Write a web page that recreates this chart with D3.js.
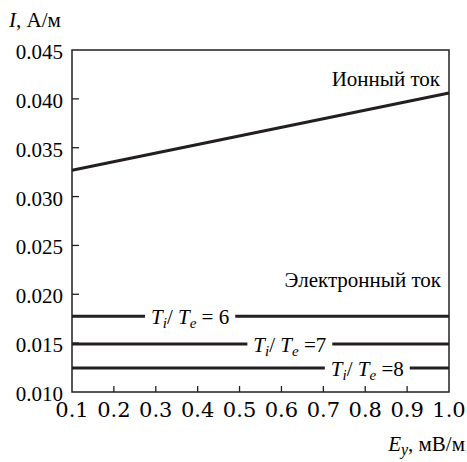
<!DOCTYPE html>
<html>
<head>
<meta charset="utf-8">
<script src="https://cdn.jsdelivr.net/npm/d3@7"></script>
</head>
<body style="margin:0">
<svg id="chart" width="467" height="462"></svg>
<script>
// field values along x
const fieldX = [0.1, 1.0];
// ion current, A/m
const ionCurrent = [0.0327, 0.0406];
// electron current for each temperature ratio
const ratios = [6, 7, 8];
const electronCurrent = [0.01775, 0.0149, 0.01245];
const labelAt = [0.382, 0.62, 0.805];
const ratioSpace = [" = ", " =", " ="];

const xTicks = [0.1, 0.2, 0.3, 0.4, 0.5, 0.6, 0.7, 0.8, 0.9, 1.0];
const yTicks = [0.010, 0.015, 0.020, 0.025, 0.030, 0.035, 0.040, 0.045];

const width = 467, height = 462;
const margin = { top: 50, right: 18, bottom: 70, left: 72 };

const svg = d3.select("#chart");

const x = d3.scaleLinear().domain([0.1, 1.0]).range([margin.left, width - margin.right]);
const y = d3.scaleLinear().domain([0.010, 0.045]).range([height - margin.bottom, margin.top]);

const ink = "#231f20";

function label(sel, fam) {
    return sel.attr("font-family", fam || "Liberation Serif").attr("font-size", 21);
}

// tick labels first
svg.selectAll("text.ylab")
    .data(yTicks)
    .join("text")
    .call(label, "Liberation Serif")
    .attr("x", x(0.1) - 9)
    .attr("y", d => y(d) + 9)
    .attr("text-anchor", "end")
    .text(d => d3.format(".3f")(d));

svg.selectAll("text.xlab")
    .data(xTicks)
    .join("text")
    .call(label, "DejaVu Serif")
    .attr("x", d => x(d))
    .attr("y", y(0.010) + 25)
    .attr("text-anchor", "middle")
    .text(d => d3.format(".1f")(d));

// frame
svg.append("rect")
    .attr("x", x(0.1)).attr("y", y(0.045))
    .attr("width", x(1.0) - x(0.1)).attr("height", y(0.010) - y(0.045))
    .attr("fill", "none").attr("stroke", ink).attr("stroke-width", 1.5);

// ticks (inward)
svg.selectAll("line.ytick")
    .data(yTicks.slice(1, -1))
    .join("line")
    .attr("x1", x(0.1)).attr("x2", x(0.1) + 7)
    .attr("y1", d => y(d)).attr("y2", d => y(d))
    .attr("stroke", ink).attr("stroke-width", 1.3);

svg.selectAll("line.xtick")
    .data(xTicks.slice(1, -1))
    .join("line")
    .attr("x1", d => x(d)).attr("x2", d => x(d))
    .attr("y1", y(0.010)).attr("y2", y(0.010) - 6)
    .attr("stroke", ink).attr("stroke-width", 1.3);

// axis titles
const yTitle = svg.append("text").call(label, "serif").attr("x", 9).attr("y", 27);
yTitle.append("tspan").attr("font-style", "italic").text("I");
yTitle.append("tspan").text(", А/м");

const xTitle = svg.append("text").call(label, "Times New Roman").attr("x", 465).attr("y", 451)
    .attr("text-anchor", "end");
xTitle.append("tspan").attr("font-style", "italic").text("E");
xTitle.append("tspan").attr("font-style", "italic").attr("font-size", 16).attr("dy", 4).text("y");
xTitle.append("tspan").attr("dy", -4).text(", мВ/м");

// ion current line
const line = d3.line().x(d => x(d[0])).y(d => y(d[1]));
svg.append("path")
    .datum(fieldX.map((v, i) => [v, ionCurrent[i]]))
    .attr("d", line)
    .attr("fill", "none").attr("stroke", ink).attr("stroke-width", 3);

svg.append("text").call(label)
    .attr("x", 440).attr("y", 86)
    .attr("text-anchor", "end")
    .text("Ионный ток");

svg.append("text").call(label)
    .attr("x", 441).attr("y", 287)
    .attr("text-anchor", "end")
    .text("Электронный ток");

// electron current lines
electronCurrent.forEach((val, i) => {
    svg.append("path")
        .datum(fieldX.map(v => [v, val]))
        .attr("d", line)
        .attr("fill", "none").attr("stroke", ink).attr("stroke-width", 3);

    const bg = svg.append("rect").attr("fill", "white");
    const t = svg.append("text").call(label)
        .attr("x", x(labelAt[i])).attr("y", y(val) + 8)
        .attr("text-anchor", "middle");
    t.append("tspan").attr("font-style", "italic").text("T");
    t.append("tspan").attr("font-style", "italic").attr("font-size", 15).attr("dy", 4).text("i");
    t.append("tspan").attr("dy", -4).text("/");
    t.append("tspan").attr("font-style", "italic").text(" T");
    t.append("tspan").attr("font-style", "italic").attr("font-size", 15).attr("dy", 4).text("e");
    t.append("tspan").attr("dy", -4).text(ratioSpace[i] + ratios[i]);

    const b = t.node().getBBox();
    bg.attr("x", b.x - 6).attr("y", y(val) - 3)
        .attr("width", b.width + 12).attr("height", 6);
});
</script>
</body>
</html>
